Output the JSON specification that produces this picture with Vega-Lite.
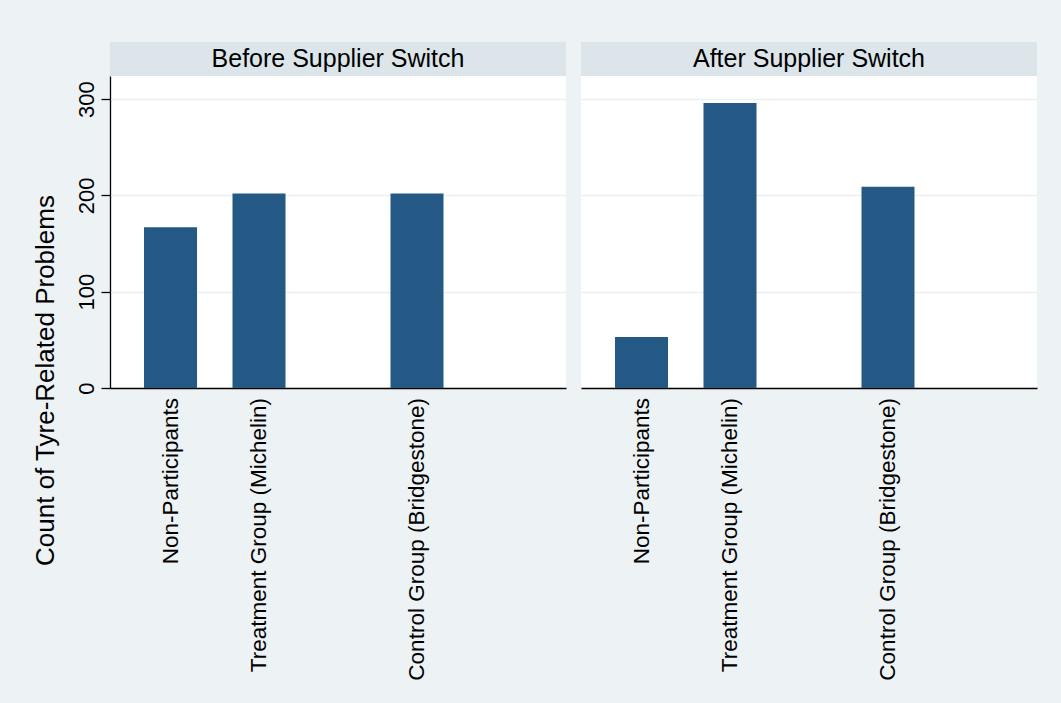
{
  "$schema": "https://vega.github.io/schema/vega-lite/v6.json",
  "background": "#EDF2F5",
  "padding": {"left": 32, "top": 42, "right": 24, "bottom": 23},
  "autosize": {"type": "pad"},
  "config": {
    "font": "Liberation Sans",
    "view": {"stroke": null},
    "concat": {"spacing": 15}
  },
  "datasets": {
    "counts": [
      {"period": "Before Supplier Switch", "group": "Non-Participants", "cluster": 1, "slot": 1, "count": 167},
      {"period": "Before Supplier Switch", "group": "Treatment Group (Michelin)", "cluster": 1, "slot": 2, "count": 202},
      {"period": "Before Supplier Switch", "group": "Control Group (Bridgestone)", "cluster": 2, "slot": 1, "count": 202},
      {"period": "After Supplier Switch", "group": "Non-Participants", "cluster": 1, "slot": 1, "count": 53},
      {"period": "After Supplier Switch", "group": "Treatment Group (Michelin)", "cluster": 1, "slot": 2, "count": 296},
      {"period": "After Supplier Switch", "group": "Control Group (Bridgestone)", "cluster": 2, "slot": 1, "count": 209}
    ]
  },
  "hconcat": [
    {
      "spacing": 0,
      "vconcat": [
        {
          "data": {"values": [{"period": "Before Supplier Switch"}]},
          "width": 456,
          "height": 34,
          "view": {"fill": "#DCE6EA", "stroke": null},
          "mark": {"type": "text", "fontSize": 25, "color": "#000000"},
          "encoding": {"text": {"field": "period", "type": "nominal"}}
        },
        {
          "data": {"name": "counts"},
          "transform": [{"filter": "datum.period === 'Before Supplier Switch'"}],
          "width": 456,
          "height": 312,
          "view": {"fill": "#FFFFFF", "stroke": null},
          "encoding": {
            "x": {
              "field": "cluster", "type": "nominal",
              "scale": {"domain": [1, 2], "paddingInner": 0.426, "paddingOuter": 0.138},
              "axis": {"labels": false, "ticks": false, "title": null, "grid": false, "domainColor": "#000000", "domainWidth": 1.3}
            },
            "xOffset": {
              "field": "slot", "type": "nominal",
              "scale": {"domain": [1, 2], "paddingInner": 0.401, "paddingOuter": 0}
            }
          },
          "layer": [
            {
              "mark": {"type": "bar", "color": "#245985"},
              "encoding": {
                "y": {
                  "field": "count", "type": "quantitative",
                  "scale": {"domain": [0, 324], "nice": false},
                  "axis": {
                    "values": [0, 100, 200, 300],
                    "grid": true, "gridColor": "#EAF1F3", "gridWidth": 1.5,
                    "domainColor": "#000000", "domainWidth": 1.3,
                    "tickColor": "#000000", "tickWidth": 1.3, "tickSize": 9,
                    "labelAngle": 270, "labelAlign": "center", "labelBaseline": "alphabetic",
                    "labelFontSize": 22, "labelColor": "#000000", "labelPadding": 8,
                    "title": "Count of Tyre-Related Problems",
                    "titleFontSize": 26, "titleFontWeight": "normal", "titleColor": "#000000",
                    "titlePadding": 17, "titleY": 304, "titleAlign": "center"
                  }
                }
              }
            },
            {
              "mark": {"type": "text", "angle": 270, "align": "right", "baseline": "middle", "dx": -10, "fontSize": 22.5, "color": "#000000"},
              "encoding": {
                "y": {"datum": 0, "type": "quantitative"},
                "text": {"field": "group", "type": "nominal"}
              }
            }
          ]
        }
      ]
    },
    {
      "spacing": 0,
      "vconcat": [
        {
          "data": {"values": [{"period": "After Supplier Switch"}]},
          "width": 456,
          "height": 34,
          "view": {"fill": "#DCE6EA", "stroke": null},
          "mark": {"type": "text", "fontSize": 25, "color": "#000000"},
          "encoding": {"text": {"field": "period", "type": "nominal"}}
        },
        {
          "data": {"name": "counts"},
          "transform": [{"filter": "datum.period === 'After Supplier Switch'"}],
          "width": 456,
          "height": 312,
          "view": {"fill": "#FFFFFF", "stroke": null},
          "encoding": {
            "x": {
              "field": "cluster", "type": "nominal",
              "scale": {"domain": [1, 2], "paddingInner": 0.426, "paddingOuter": 0.138},
              "axis": {"labels": false, "ticks": false, "title": null, "grid": false, "domainColor": "#000000", "domainWidth": 1.3}
            },
            "xOffset": {
              "field": "slot", "type": "nominal",
              "scale": {"domain": [1, 2], "paddingInner": 0.401, "paddingOuter": 0}
            }
          },
          "layer": [
            {
              "mark": {"type": "bar", "color": "#245985"},
              "encoding": {
                "y": {
                  "field": "count", "type": "quantitative",
                  "scale": {"domain": [0, 324], "nice": false},
                  "axis": {
                    "values": [0, 100, 200, 300],
                    "grid": true, "gridColor": "#EAF1F3", "gridWidth": 1.5,
                    "domain": false, "ticks": false, "labels": false, "title": null
                  }
                }
              }
            },
            {
              "mark": {"type": "text", "angle": 270, "align": "right", "baseline": "middle", "dx": -10, "fontSize": 22.5, "color": "#000000"},
              "encoding": {
                "y": {"datum": 0, "type": "quantitative"},
                "text": {"field": "group", "type": "nominal"}
              }
            }
          ]
        }
      ]
    }
  ]
}
